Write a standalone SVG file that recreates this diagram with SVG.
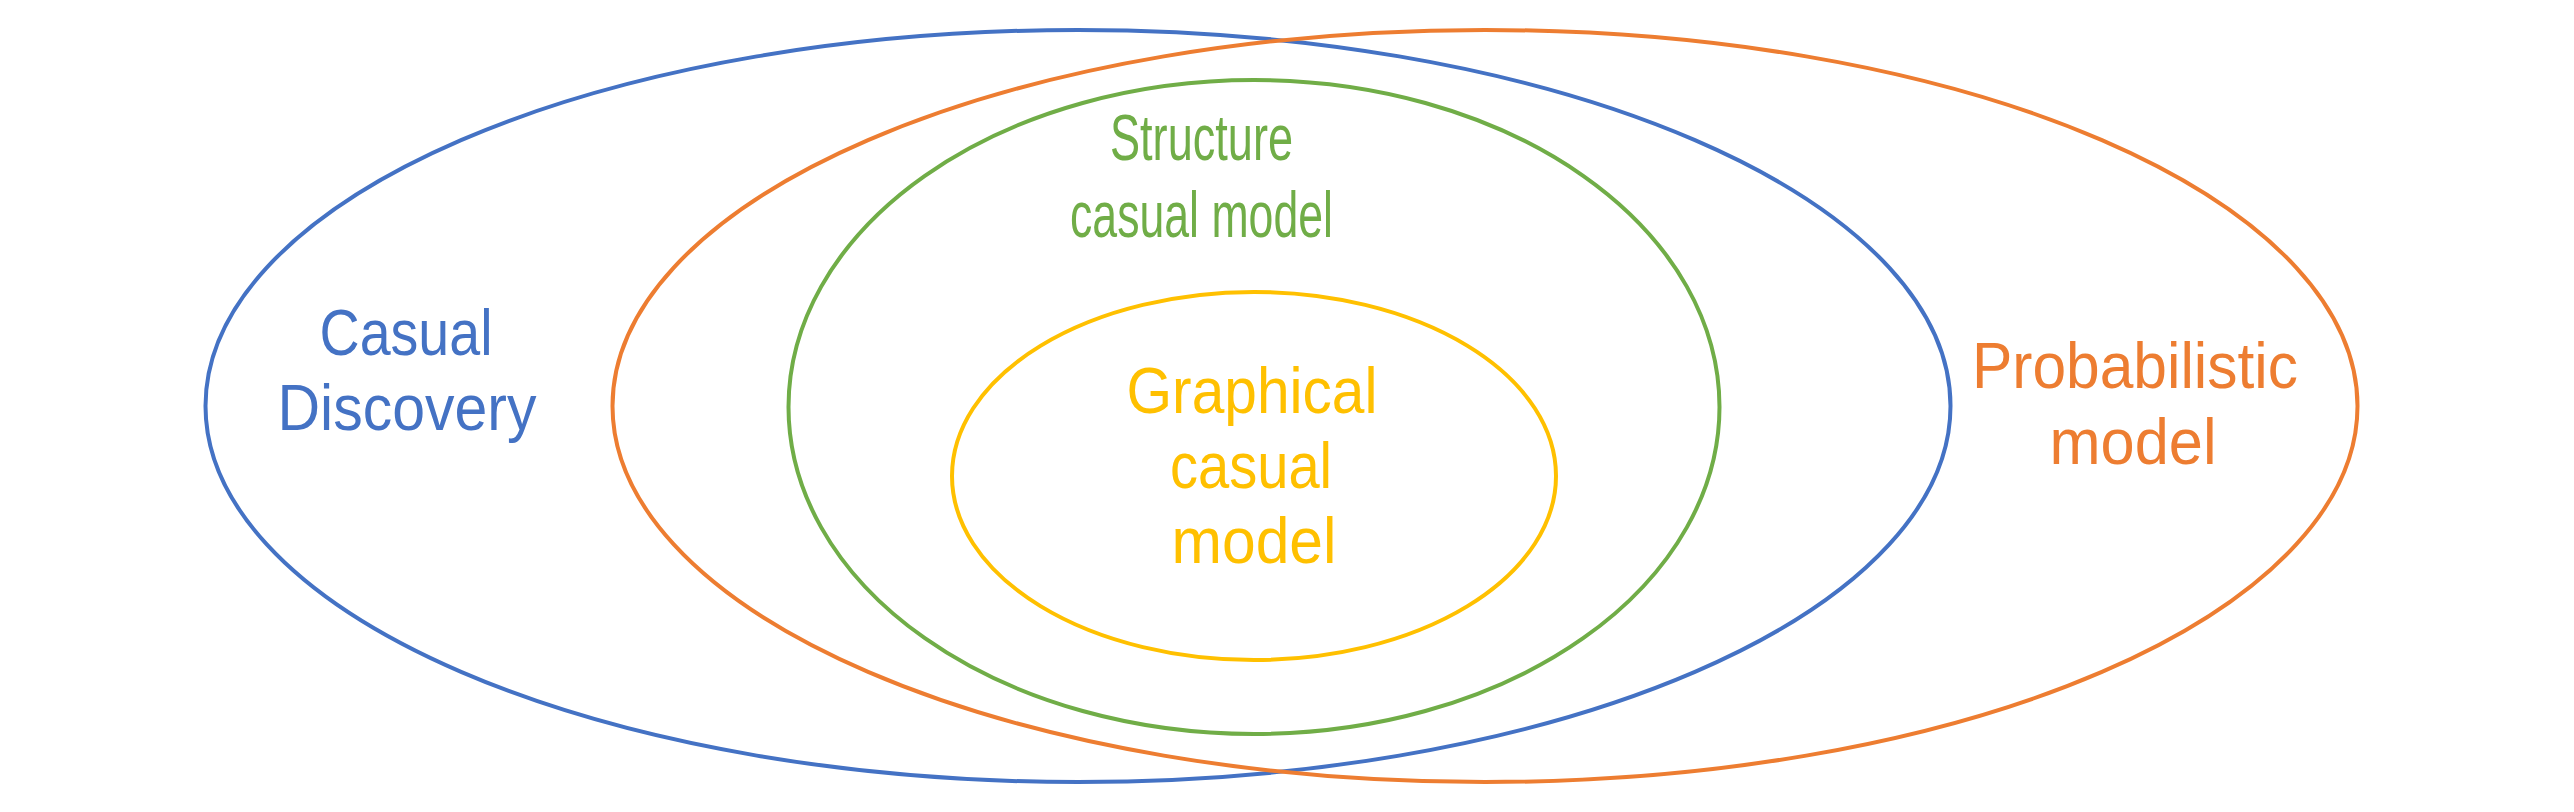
<svg xmlns="http://www.w3.org/2000/svg" width="2574" height="812" viewBox="0 0 2574 812">
<style>
.e{fill:none;stroke-width:4}
.t{font-family:"Liberation Sans",Arial,sans-serif;font-size:64px;text-anchor:middle}
</style>
<rect width="2574" height="812" fill="#fff"/>
<g id="casual-discovery">
<ellipse class="e" cx="1078" cy="406" rx="872.5" ry="376" stroke="#4472C4"/>
<text class="t" fill="#4472C4" x="406" y="355" textLength="173" lengthAdjust="spacingAndGlyphs">Casual</text>
<text class="t" fill="#4472C4" x="407" y="430" textLength="259" lengthAdjust="spacingAndGlyphs">Discovery</text>
</g>
<g id="probabilistic-model">
<ellipse class="e" cx="1485" cy="406" rx="872.5" ry="376" stroke="#ED7D31"/>
<text class="t" fill="#ED7D31" x="2135" y="388" textLength="326" lengthAdjust="spacingAndGlyphs">Probabilistic</text>
<text class="t" fill="#ED7D31" x="2133" y="464" textLength="167" lengthAdjust="spacingAndGlyphs">model</text>
</g>
<g id="structure-causal-model">
<ellipse class="e" cx="1254" cy="407" rx="465.5" ry="327" stroke="#70AD47"/>
<text class="t" fill="#70AD47" x="1201.5" y="160" textLength="183" lengthAdjust="spacingAndGlyphs">Structure</text>
<text class="t" fill="#70AD47" x="1201.5" y="237" textLength="263" lengthAdjust="spacingAndGlyphs">casual model</text>
</g>
<g id="graphical-causal-model">
<ellipse class="e" cx="1254" cy="476" rx="302" ry="184" stroke="#FFC000"/>
<text class="t" fill="#FFC000" x="1252" y="413" textLength="251" lengthAdjust="spacingAndGlyphs">Graphical</text>
<text class="t" fill="#FFC000" x="1251" y="488" textLength="162" lengthAdjust="spacingAndGlyphs">casual</text>
<text class="t" fill="#FFC000" x="1254" y="563" textLength="165" lengthAdjust="spacingAndGlyphs">model</text>
</g>
<g id="connectors"></g>
</svg>
